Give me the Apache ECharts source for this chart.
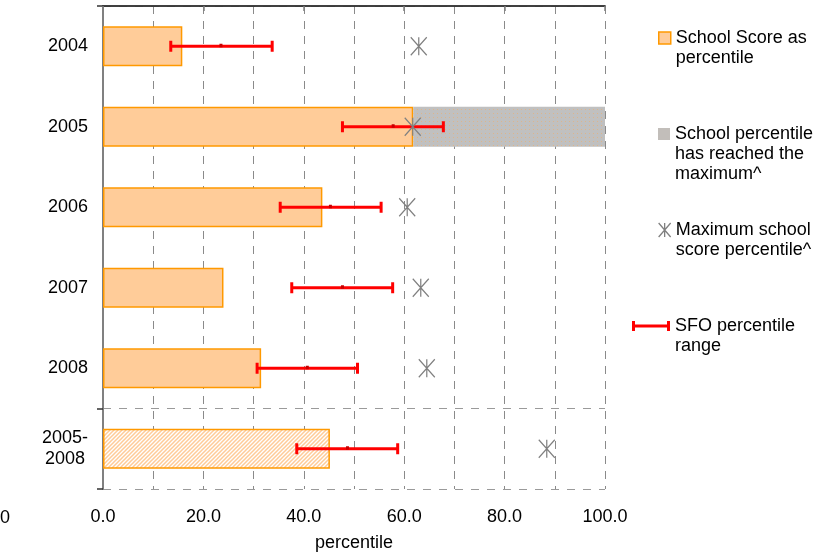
<!DOCTYPE html>
<html><head><meta charset="utf-8">
<script src="https://cdn.jsdelivr.net/npm/echarts@6/dist/echarts.min.js"></script>
<style>html,body{margin:0;padding:0;background:#fff}#c{width:839px;height:552px}</style>
</head><body><div id="c"></div>
<script>
const categories = ['2004', '2005', '2006', '2007', '2008', '2005-2008'];
const schoolScore = [15.8, 61.8, 43.7, 24.0, 31.5, 45.2];
const reachedMax = ['-', 38.2, '-', '-', '-', '-'];
const maxSchool = [62.9, 61.7, 60.6, 63.3, 64.5, 88.4];
const sfoLow = [13.5, 47.7, 35.3, 37.6, 30.7, 38.6];
const sfoMid = [23.5, 57.8, 45.3, 47.7, 40.7, 48.7];
const sfoHigh = [33.7, 67.8, 55.4, 57.7, 50.7, 58.7];
const seriesNames = ['School Score as percentile', 'School percentile has reached the maximum^', 'Maximum school score percentile^', 'SFO percentile range'];
const legendLines = [['School Score as', 'percentile'], ['School percentile', 'has reached the', 'maximum^'], ['Maximum school', 'score percentile^'], ['SFO percentile', 'range']];
// boundary (in category rows, from top) that separates the yearly rows from the combined row
const groupBoundary = 5;

const FONT = "'Liberation Sans', Arial, sans-serif";

function hatchPattern() {
  const c = document.createElement('canvas'); c.width = 4; c.height = 4;
  const g = c.getContext('2d');
  g.fillStyle = '#FFFFFF'; g.fillRect(0, 0, 4, 4);
  g.strokeStyle = '#FFCB98'; g.lineWidth = 1.5;
  g.beginPath();
  g.moveTo(-1, 5); g.lineTo(5, -1);
  g.moveTo(-3, 3); g.lineTo(3, -3);
  g.moveTo(1, 7); g.lineTo(7, 1);
  g.stroke();
  return c;
}
function dotPattern() {
  const c = document.createElement('canvas'); c.width = 4; c.height = 4;
  const g = c.getContext('2d');
  g.fillStyle = '#C0C0C0'; g.fillRect(0, 0, 4, 4);
  g.fillStyle = '#DDB58C'; g.fillRect(1, 1, 1, 1);
  return c;
}

const chart = echarts.init(document.getElementById('c'), null, { renderer: 'canvas' });

const starPath = 'path://M0,0L12,14M12,0L0,14M6,0L6,14';
const errPath = 'path://M0,0h3v10h-3zM35,0h3v10h-3zM3,3.5h32v3h-32z';

function legendFor(i, left, top, icon, w, h, itemStyle) {
  const lines = legendLines[i];
  const pre = '\n'.repeat(lines.length - 1);
  return {
    left: left, top: top, padding: 0, selectedMode: false,
    itemWidth: w, itemHeight: h, itemGap: 0,
    data: [Object.assign({ name: seriesNames[i], icon: icon }, itemStyle ? { itemStyle: itemStyle } : {})],
    formatter: () => pre + lines.join('\n'),
    textStyle: { fontFamily: FONT, fontSize: 18, lineHeight: 20, color: '#000' }
  };
}

const option = {
  animation: false,
  backgroundColor: '#fff',
  textStyle: { fontFamily: FONT },
  grid: { left: 103, right: 234, top: 6, bottom: 63, containLabel: false, outerBoundsMode: 'none' },
  legend: [
    legendFor(0, 658, 8, 'rect', 12, 12, { color: '#FFCC99', borderColor: '#FF9900', borderWidth: 1.5 }),
    legendFor(1, 658, 84, 'rect', 12, 12, { color: '#C2BEBA', borderWidth: 0 }),
    legendFor(2, 658, 200, starPath, 12, 14, { color: 'rgba(0,0,0,0)', borderColor: '#808080', borderWidth: 1.3 }),
    legendFor(3, 632, 296, errPath, 38, 10, { color: '#FF0000', borderWidth: 0 })
  ],
  xAxis: [{
    type: 'value', min: 0, max: 100, interval: 20,
    name: 'percentile', nameLocation: 'middle', nameGap: 45,
    nameTextStyle: { fontFamily: FONT, fontSize: 18, color: '#000' },
    axisLine: { show: true, lineStyle: { color: '#808080', width: 1.5 } },
    axisTick: { show: true, length: 5, lineStyle: { color: '#808080', width: 1.5 } },
    axisLabel: { margin: 19, fontFamily: FONT, fontSize: 18, color: '#000', formatter: v => v.toFixed(1) },
    splitLine: { show: true, lineStyle: { color: '#8a8a8a', type: [8, 7], width: 1 } },
    minorTick: { show: false, splitNumber: 2 },
    minorSplitLine: { show: true, lineStyle: { color: '#8a8a8a', type: [8, 7], width: 1 } }
  }, {
    type: 'value', min: 0, max: 100, position: 'top',
    axisLine: { show: true, lineStyle: { color: '#222', width: 1.5 } },
    axisTick: { show: false }, axisLabel: { show: false }, splitLine: { show: false }
  }],
  yAxis: [{
    type: 'category', data: categories, inverse: true,
    axisLine: { show: true, lineStyle: { color: '#808080', width: 2 } },
    axisTick: { show: false },
    splitLine: { show: false },
    axisLabel: {
      margin: 15, fontFamily: FONT, fontSize: 18, color: '#000', lineHeight: 21,
      formatter: v => v.indexOf('-') > 0 ? '{c|' + v.split('-')[0] + '-}\n{c|' + v.split('-')[1] + '}' : v,
      rich: { c: { align: 'center', fontFamily: FONT, fontSize: 18, lineHeight: 21, color: '#000' } }
    }
  }, {
    type: 'value', min: 0, max: categories.length, interval: groupBoundary, inverse: true, position: 'left',
    axisLine: { show: false },
    axisLabel: { show: false },
    axisTick: { show: true, length: 6, lineStyle: { color: '#333', width: 1.5 } },
    splitLine: { show: true, lineStyle: { color: '#9a9a9a', type: [8, 8], width: 1 } }
  }],
  series: [{
    name: seriesNames[0], type: 'bar', stack: 'score', barWidth: 40,
    itemStyle: { color: '#FFCC99', borderColor: '#FF9900', borderWidth: 1.5 },
    data: schoolScore.map((v, i) => i === categories.length - 1
      ? { value: v, itemStyle: { color: { image: hatchPattern(), repeat: 'repeat' } } }
      : v),
    z: 2
  }, {
    name: seriesNames[1], type: 'bar', stack: 'score', barWidth: 40,
    itemStyle: { color: { image: dotPattern(), repeat: 'repeat' }, borderWidth: 0 },
    data: reachedMax, z: 2
  }, {
    name: seriesNames[3], type: 'custom',
    encode: { x: [1, 2, 3], y: 0 },
    data: categories.map((c, i) => [i, sfoLow[i], sfoMid[i], sfoHigh[i]]),
    renderItem: function (params, api) {
      const y = api.value(0);
      const lo = api.coord([api.value(1), y]);
      const mid = api.coord([api.value(2), y]);
      const hi = api.coord([api.value(3), y]);
      const st = { stroke: '#FF0000', lineWidth: 3 };
      return {
        type: 'group', children: [
          { type: 'line', shape: { x1: lo[0], y1: lo[1], x2: hi[0], y2: hi[1] }, style: st },
          { type: 'line', shape: { x1: lo[0], y1: lo[1] - 5.5, x2: lo[0], y2: lo[1] + 5.5 }, style: st },
          { type: 'line', shape: { x1: hi[0], y1: hi[1] - 5.5, x2: hi[0], y2: hi[1] + 5.5 }, style: st },
          { type: 'rect', shape: { x: mid[0] - 1.5, y: mid[1] - 2.5, width: 3, height: 3.5 }, style: { fill: '#C80000' } }
        ]
      };
    },
    z: 4
  }, {
    name: seriesNames[2], type: 'scatter',
    symbol: starPath, symbolSize: [16, 18],
    itemStyle: { color: 'rgba(0,0,0,0)', borderColor: '#808080', borderWidth: 1.3, opacity: 1 },
    data: maxSchool.map((v, i) => [v, categories[i]]),
    z: 5
  }],
  graphic: [{
    type: 'text', left: 0, top: 509,
    style: { text: '0', fontFamily: FONT, fontSize: 18, fill: '#000' }
  }]
};
chart.setOption(option);
</script>
</body></html>
